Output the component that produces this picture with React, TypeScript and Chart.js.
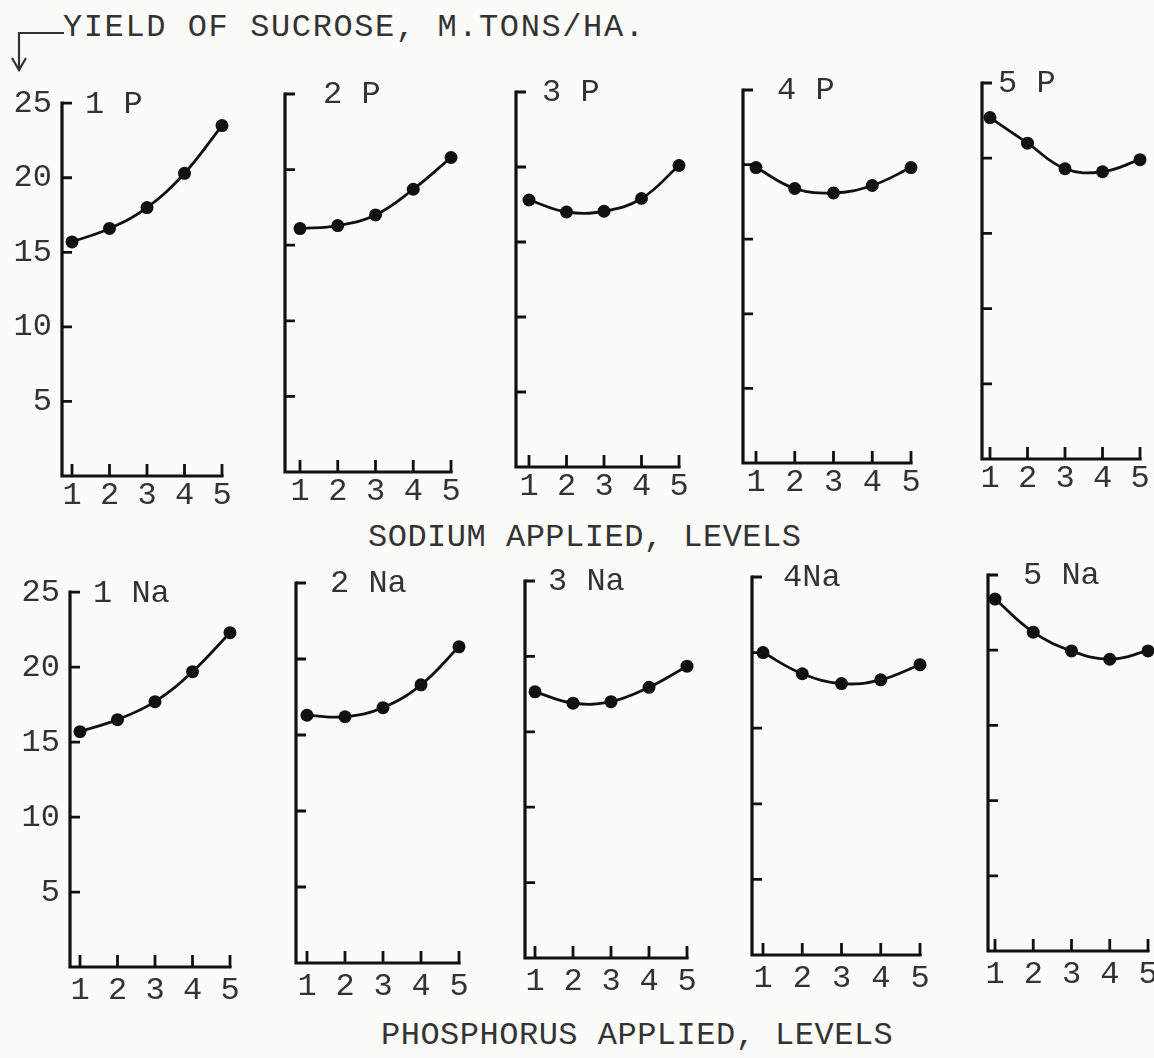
import React, { useEffect, useRef } from 'react';
import { Chart, registerables } from 'chart.js';

Chart.register(...registerables);

// ---------- data ----------
const levels = [1, 2, 3, 4, 5];
const yTickValues = [5, 10, 15, 20, 25];
const yTickLabels = ['5', '10', '15', '20', '25'];

const topPanelLabels = ['1 P', '2 P', '3 P', '4 P', '5 P'];
const bottomPanelLabels = ['1 Na', '2 Na', '3 Na', '4Na', '5 Na'];

// top row: x = sodium level, one panel per phosphorus level
const yield1P = [15.7, 16.6, 18.0, 20.3, 23.5];
const yield2P = [16.1, 16.3, 17.0, 18.7, 20.8];
const yield3P = [17.8, 17.0, 17.05, 17.9, 20.1];
const yield4P = [19.8, 18.4, 18.1, 18.6, 19.8];
const yield5P = [22.7, 21.0, 19.3, 19.1, 19.9];

// bottom row: x = phosphorus level, one panel per sodium level
const yield1Na = [15.7, 16.5, 17.7, 19.7, 22.3];
const yield2Na = [16.3, 16.2, 16.8, 18.3, 20.8];
const yield3Na = [17.65, 16.9, 17.0, 17.95, 19.35];
const yield4Na = [20.0, 18.6, 17.95, 18.2, 19.2];
const yield5Na = [23.4, 21.2, 19.95, 19.4, 19.95];

const topSeries = [yield1P, yield2P, yield3P, yield4P, yield5P];
const bottomSeries = [yield1Na, yield2Na, yield3Na, yield4Na, yield5Na];

const yAxisTitle = 'YIELD OF SUCROSE, M.TONS/HA.';
const sodiumAxisTitle = 'SODIUM APPLIED, LEVELS';
const phosphorusAxisTitle = 'PHOSPHORUS APPLIED, LEVELS';

// ---------- layout (page pixels) ----------
type Box = { axis: number; top: number; bottom: number; t1: number; t5: number; labelDx: number };
const topBoxes: Box[] = [
  { axis: 62, top: 100, bottom: 476, t1: 72, t5: 222, labelDx: 23 },
  { axis: 285, top: 94, bottom: 472, t1: 300, t5: 451, labelDx: 38 },
  { axis: 516, top: 92, bottom: 467, t1: 529, t5: 679, labelDx: 26 },
  { axis: 743, top: 90, bottom: 463, t1: 756, t5: 911, labelDx: 34 },
  { axis: 982, top: 83, bottom: 459, t1: 990, t5: 1140, labelDx: 16 },
];
const bottomBoxes: Box[] = [
  { axis: 70, top: 589, bottom: 967, t1: 80, t5: 230, labelDx: 23 },
  { axis: 296, top: 583, bottom: 963, t1: 307, t5: 459, labelDx: 34 },
  { axis: 525, top: 581, bottom: 958, t1: 535, t5: 687, labelDx: 23 },
  { axis: 752, top: 577, bottom: 955, t1: 763, t5: 920, labelDx: 31 },
  { axis: 988, top: 575, bottom: 951, t1: 995, t5: 1148, labelDx: 35 },
];

const FONT = '"Liberation Mono", "Courier New", monospace';
const INK = '#111';
const TEXT = '#333';
const BG = '#fbfbfa';

function framePlugin(label: string, dx: number) {
  return {
    id: 'frame',
    beforeDatasetsDraw(chart: any) {
      const { ctx } = chart;
      const xs = chart.scales.x;
      const ys = chart.scales.y;
      const ax = chart.chartArea.left;
      const y0 = ys.getPixelForValue(0);
      const yTop = ys.getPixelForValue(25);
      const x5 = xs.getPixelForValue(5);
      ctx.save();
      ctx.strokeStyle = INK;
      ctx.lineWidth = 3.2;
      ctx.lineCap = 'square';
      ctx.beginPath();
      ctx.moveTo(ax, yTop);
      ctx.lineTo(ax, y0);
      ctx.lineTo(x5, y0);
      ctx.stroke();
      ctx.lineWidth = 2.8;
      ctx.lineCap = 'butt';
      ctx.beginPath();
      yTickValues.forEach((v) => {
        const py = ys.getPixelForValue(v);
        ctx.moveTo(ax, py);
        ctx.lineTo(ax + 10, py);
      });
      levels.forEach((v) => {
        const px = xs.getPixelForValue(v);
        ctx.moveTo(px, y0);
        ctx.lineTo(px, y0 - 12);
      });
      ctx.stroke();
      ctx.fillStyle = TEXT;
      ctx.font = `32px ${FONT}`;
      ctx.textBaseline = 'middle';
      ctx.textAlign = 'left';
      ctx.fillText(label, ax + dx, yTop + 1);
      ctx.restore();
    },
  };
}

function Panel({ box, values, label, showYLabels, xPad }: { box: Box; values: number[]; label: string; showYLabels: boolean; xPad: number }) {
  const ref = useRef<HTMLCanvasElement>(null);
  const padL = showYLabels ? box.axis : 8;
  const padT = 26;
  const padR = 16;
  const padB = 46;
  const width = padL + (box.t5 - box.axis) + padR;
  const height = padT + (box.bottom - box.top) + padB;
  const left = box.axis - padL;
  const top = box.top - padT;
  const xMin = 1 - ((box.t1 - box.axis) * 4) / (box.t5 - box.t1);

  useEffect(() => {
    const chart = new Chart(ref.current as HTMLCanvasElement, {
      type: 'line',
      data: {
        datasets: [
          {
            data: levels.map((x, i) => ({ x, y: values[i] })),
            borderColor: INK,
            borderWidth: 2.8,
            pointRadius: 6.5,
            pointBackgroundColor: INK,
            pointBorderWidth: 0,
            tension: 0.4,
            fill: false,
            clip: false as any,
          },
        ],
      },
      options: {
        animation: false,
        responsive: false,
        devicePixelRatio: 1,
        layout: { padding: { top: padT, right: padR, left: 0, bottom: 0 } },
        plugins: { legend: { display: false }, tooltip: { enabled: false } },
        scales: {
          x: {
            type: 'linear',
            min: xMin,
            max: 5,
            grid: { display: false, drawTicks: false },
            border: { display: false },
            afterBuildTicks: (s: any) => {
              s.ticks = levels.map((v) => ({ value: v }));
            },
            afterFit: (s: any) => {
              s.height = padB;
            },
            ticks: {
              font: { family: FONT, size: 32 },
              color: TEXT,
              padding: xPad,
              maxRotation: 0,
              autoSkip: false,
              callback: (v: any) => String(v),
            },
          },
          y: {
            type: 'linear',
            min: 0,
            max: 25,
            grid: { display: false, drawTicks: false },
            border: { display: false },
            afterBuildTicks: (s: any) => {
              s.ticks = yTickValues.map((v) => ({ value: v }));
            },
            afterFit: (s: any) => {
              s.width = padL;
            },
            ticks: {
              display: showYLabels,
              font: { family: FONT, size: 32 },
              color: TEXT,
              padding: 10,
              autoSkip: false,
              callback: (v: any) => yTickLabels[yTickValues.indexOf(Number(v))],
            },
          },
        },
      } as any,
      plugins: [framePlugin(label, box.labelDx)],
    });
    return () => chart.destroy();
  }, []);

  return (
    <canvas
      ref={ref}
      width={width}
      height={height}
      style={{ position: 'absolute', left, top, width, height }}
    />
  );
}

const textStyle: React.CSSProperties = {
  position: 'absolute',
  fontFamily: FONT,
  fontSize: 32,
  lineHeight: '32px',
  color: TEXT,
  whiteSpace: 'nowrap',
};

export default function App() {
  return (
    <div
      style={{
        position: 'absolute',
        left: 0,
        top: 0,
        width: 1154,
        height: 1058,
        overflow: 'hidden',
        background: BG,
      }}
    >
      <svg width={80} height={80} style={{ position: 'absolute', left: 0, top: 0 }}>
        <path d="M64 33 L19 33 L19 69" stroke={TEXT} strokeWidth={2.2} fill="none" />
        <path d="M12 58 L19 70 L26 58" stroke={TEXT} strokeWidth={2.2} fill="none" />
      </svg>
      <div style={{ ...textStyle, left: 63, top: 12, letterSpacing: '1.6px' }}>{yAxisTitle}</div>
      <div style={{ ...textStyle, left: 368, top: 522, letterSpacing: '0.5px' }}>{sodiumAxisTitle}</div>
      <div style={{ ...textStyle, left: 381, top: 1020, letterSpacing: '0.5px' }}>{phosphorusAxisTitle}</div>
      {topBoxes.map((b, i) => (
        <Panel key={'t' + i} box={b} values={topSeries[i]} label={topPanelLabels[i]} showYLabels={i === 0} xPad={0} />
      ))}
      {bottomBoxes.map((b, i) => (
        <Panel key={'b' + i} box={b} values={bottomSeries[i]} label={bottomPanelLabels[i]} showYLabels={i === 0} xPad={4} />
      ))}
    </div>
  );
}
